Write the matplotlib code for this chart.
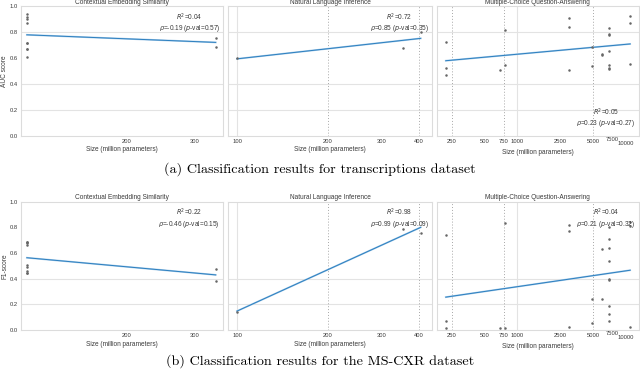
import numpy as np
import matplotlib.pyplot as plt

# ---- data ----
titles = ['Contextual Embedding Similarity', 'Natural Language Inference',
          'Multiple-Choice Question-Answering']
xlabel = 'Size (million parameters)'
captions = ['(a) Classification results for transcriptions dataset',
            '(b) Classification results for the MS-CXR dataset']
ylabels = ['AUC score', 'F1-score']

# contextual embedding similarity (model sizes in million parameters)
ces_x = [110, 110, 110, 110, 110, 110, 110, 110, 110, 340, 340]
ces_auc = [0.94, 0.92, 0.90, 0.87, 0.72, 0.72, 0.67, 0.67, 0.61, 0.754, 0.689]
ces_f1 = [0.688, 0.688, 0.676, 0.662, 0.507, 0.494, 0.46, 0.447, 0.447, 0.475, 0.384]

# natural language inference
nli_x = [100, 355, 405]
nli_auc = [0.60, 0.68, 0.805]
nli_f1 = [0.143, 0.785, 0.758]

# multiple-choice question answering
mcqa_x_auc = [220, 220, 220, 700, 770, 770, 3000, 3000, 3000, 4900, 4900,
              6000, 6000, 7000, 7000, 7000, 7000, 7000, 7000, 7000,
              11000, 11000, 11000]
mcqa_auc = [0.727, 0.527, 0.468, 0.509, 0.818, 0.547, 0.908, 0.841, 0.507,
            0.689, 0.54, 0.635, 0.622, 0.831, 0.789, 0.777, 0.656, 0.547,
            0.527, 0.514, 0.926, 0.874, 0.558]
mcqa_x_f1 = [220, 220, 220, 700, 770, 770, 3000, 3000, 3000, 4900, 4900,
             6000, 6000, 7000, 7000, 7000, 7000, 7000, 7000, 7000, 7000, 7000,
             11000, 11000, 11000]
mcqa_f1 = [0.740, 0.070, 0.018, 0.018, 0.831, 0.018, 0.818, 0.769, 0.026,
           0.242, 0.052, 0.629, 0.242, 0.803, 0.707, 0.642, 0.538, 0.40,
           0.39, 0.187, 0.125, 0.070, 0.839, 0.813, 0.02]

stats_auc = [r'$R^2$=0.04' + '\n' + r'$\rho$=-0.19 ($p$-val=0.57)',
             r'$R^2$=0.72' + '\n' + r'$\rho$=0.85 ($p$-val=0.35)',
             r'$R^2$=0.05' + '\n' + r'$\rho$=0.23 ($p$-val=0.27)']
stats_f1 = [r'$R^2$=0.22' + '\n' + r'$\rho$=-0.46 ($p$-val=0.15)',
            r'$R^2$=0.98' + '\n' + r'$\rho$=0.99 ($p$-val=0.09)',
            r'$R^2$=0.04' + '\n' + r'$\rho$=0.21 ($p$-val=0.32)']

# x axis setup per panel
xticks = [[200, 300], [100, 200, 300, 400],
          [250, 500, 750, 1000, 2500, 5000, 7500, 10000]]
xlims = [(106, 355), (93.4, 442), (183, 13200)]
solid_v = [[], [100], [1000]]
dotted_v = [[], [200, 400], [250, 750, 5000]]
hgrid = [[0.8, 0.4, 0.2], [0.4, 0.2]]
yticks = [0.0, 0.2, 0.4, 0.6, 0.8, 1.0]

plt.rcParams['font.family'] = ['Liberation Sans', 'DejaVu Sans']
plt.rcParams['mathtext.fontset'] = 'dejavusans'

FS = 4.7
GRID = '#e3e3e3'
SPINE = '#dcdcdc'
BLUE = '#2c7fbf'
TXT = '#3a3a3a'


def plot_panel(ax, k, x, y, hlines, stat, stat_bottom=False):
    """draw one scatter + log-x regression panel"""
    x = np.asarray(x, float)
    y = np.asarray(y, float)
    ax.set_xscale('log')
    ax.set_xlim(*xlims[k])
    ax.set_ylim(0, 1)

    for h in hlines:
        ax.axhline(h, color=GRID, lw=0.8, zorder=0)
    for v in solid_v[k]:
        ax.axvline(v, color=GRID, lw=0.8, zorder=0)
    for v in dotted_v[k]:
        ax.axvline(v, color='#a8a8a8', lw=0.7, ls=(0, (1, 2)), zorder=0)

    ax.plot(x, y, 'o', ms=1.8, color='#666666', mec='none', zorder=3)

    # linear fit of score vs log10(size)
    z = np.polyfit(np.log10(x), y, 1)
    xs = np.array([x.min(), x.max()])
    ax.plot(xs, np.polyval(z, np.log10(xs)), color='#a9cdea', lw=1.3, zorder=2)
    ax.plot(xs, np.polyval(z, np.log10(xs)), color=BLUE, lw=0.7, zorder=2)

    ax.xaxis.set_major_locator(plt.FixedLocator(xticks[k]))
    ax.xaxis.set_minor_locator(plt.NullLocator())
    ax.set_xticklabels([str(t) for t in xticks[k]])
    ax.set_yticks(yticks)
    ax.tick_params(length=0, labelsize=FS - 0.5, pad=2, colors=TXT)
    # the last two labels of the wide panel sit staggered, like the original
    if k == 2:
        ticks = ax.xaxis.get_major_ticks()
        ticks[-2].set_pad(1.0)
        ticks[-1].set_pad(3.5)
    for s in ax.spines.values():
        s.set_color(SPINE)
        s.set_linewidth(0.8)
    ax.set_title(titles[k], fontsize=FS, pad=2, color=TXT)
    ax.set_xlabel(xlabel, fontsize=FS, labelpad=2, color=TXT)
    if stat_bottom:
        ax.text(0.985, 0.05, stat, transform=ax.transAxes, ha='right', va='bottom',
                multialignment='center', fontsize=FS, color=TXT, linespacing=1.1)
    else:
        ax.text(0.985, 0.96, stat, transform=ax.transAxes, ha='right', va='top',
                multialignment='center', fontsize=FS, color=TXT, linespacing=1.1)


fig = plt.figure(figsize=(6.4, 3.76), dpi=100)

lefts = [0.0323, 0.3563, 0.683]
widths = [0.316, 0.319, 0.315]
rows = [(0.6386, 0.3446), (0.1223, 0.3413)]

row_data = [
    [(ces_x, ces_auc), (nli_x, nli_auc), (mcqa_x_auc, mcqa_auc)],
    [(ces_x, ces_f1), (nli_x, nli_f1), (mcqa_x_f1, mcqa_f1)],
]
row_stats = [stats_auc, stats_f1]

for r in range(2):
    for k in range(3):
        ax = fig.add_axes([lefts[k], rows[r][0], widths[k], rows[r][1]])
        xd, yd = row_data[r][k]
        plot_panel(ax, k, xd, yd, hgrid[r], row_stats[r][k],
                   stat_bottom=(r == 0 and k == 2))
        if k == 0:
            ax.set_ylabel(ylabels[r], fontsize=FS, labelpad=1, color=TXT)
            ax.yaxis.set_label_coords(-0.062, 0.5)
        else:
            ax.set_yticklabels([])

fig.text(0.5, 1 - 169 / 376, captions[0], ha='center', va='center',
         fontsize=10.2, family='cmr10')
fig.text(0.5, 1 - 361 / 376, captions[1], ha='center', va='center',
         fontsize=10.2, family='cmr10')

fig.savefig('out.png', dpi=100)
